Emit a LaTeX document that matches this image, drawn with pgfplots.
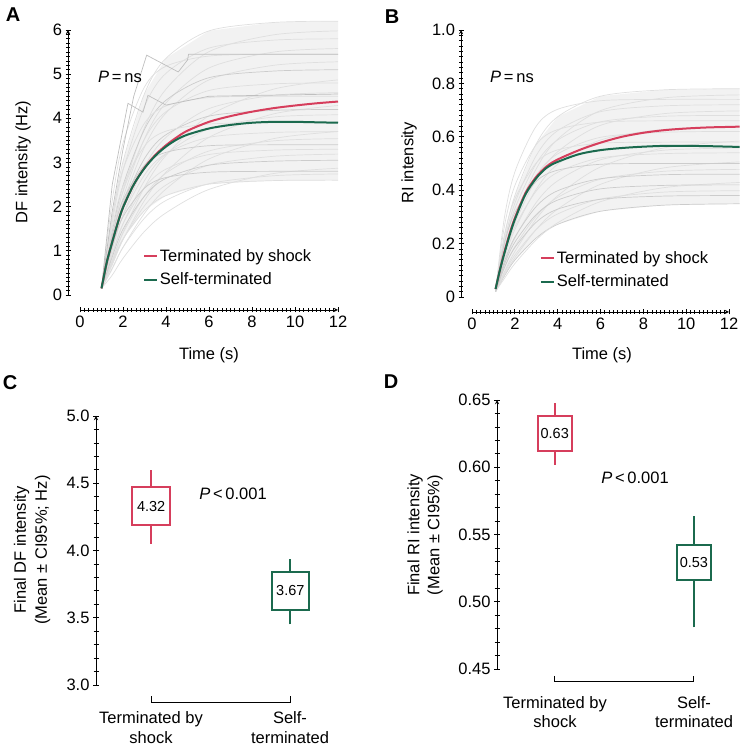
\documentclass[border=0pt]{standalone}
\usepackage{fontspec}
\setmainfont{Liberation Sans}
\usepackage{pgfplots}
\pgfplotsset{compat=1.18}

\definecolor{shock}{HTML}{D63E5C}
\definecolor{selft}{HTML}{1B6A4E}
\newcommand\lbl{\fontsize{16.5}{19.5}\selectfont}
\newcommand\boxlbl{\fontsize{14.5}{17}\selectfont}
\newcommand\panel{\fontsize{20}{24}\selectfont\bfseries}

\pgfplotsset{
  frame/.style={scale only axis, anchor=south west, clip=false,
    tick align=outside, axis line style={line width=0.9pt,-},
    every tick/.style={black, line width=0.7pt},
    major tick length=5pt, minor tick length=3.5pt,
    tick label style={font=\lbl},
    /pgf/number format/assume math mode=true},
  trace/.style={gray!25, line width=0.7pt, smooth, forget plot},
  dtrace/.style={gray!40, line width=0.7pt, smooth, forget plot},
  cloud/.style={fill=gray!10, draw=none, forget plot},
  mean/.style={line width=2pt, smooth},
  box/.style={line width=2pt, line join=miter, forget plot},
  curvelegend/.style={legend style={at={(axis description cs:0.24,0.02)}, anchor=south west,
    draw=none, fill=none, font=\lbl, row sep=6pt, inner sep=1pt},
    legend cell align=left,
    legend image code/.code={\draw[##1,line width=1.8pt] (0pt,0pt) -- (13pt,0pt);}},
}

\begin{document}
\begin{tikzpicture}
\path[use as bounding box] (0,0) rectangle (744pt,751pt);

% ---------- A ----------
\begin{axis}[frame, curvelegend, at={(80pt,456pt)}, width=258pt, height=265pt,
  xmin=0, xmax=12, ymin=0, ymax=6,
  axis x line=bottom, axis y line=left,
  axis x line shift=15pt, axis y line shift=12pt,
  xtick={0,2,...,12}, ytick={0,...,6}, minor x tick num=9, minor y tick num=9]
\addplot[cloud] coordinates {(1,0.15)(1.5,1.75)(2,3.02)(3,4.56)(4,5.36)(6,5.98)(9,6.17)(12,6.2)(12,2.6)(9,2.59)(6,2.51)(4,2.25)(3,1.91)(2,1.27)(1.5,0.74)(1,0.15)};
\addplot[trace] coordinates {(1,0.15)(1.5,1.75)(2,3.02)(3,4.56)(4,5.36)(6,5.98)(9,6.17)(12,6.2)};
\addplot[trace] coordinates {(1,0.15)(1.5,0.74)(2,1.27)(3,1.91)(4,2.25)(6,2.51)(9,2.59)(12,2.6)};
\addplot[trace] coordinates {(1,0.15)(1.5,1.33)(2,2.36)(3,3.79)(4,4.66)(6,5.51)(9,5.89)(12,5.98)};
\addplot[trace] coordinates {(1,0.15)(1.5,1.64)(2,2.82)(3,4.27)(4,5.02)(6,5.59)(9,5.77)(12,5.8)};
\addplot[trace] coordinates {(1,0.15)(1.5,1.24)(2,2.20)(3,3.54)(4,4.35)(6,5.14)(9,5.50)(12,5.58)};
\addplot[trace] coordinates {(1,0.15)(1.5,2.14)(2,3.44)(3,4.71)(4,5.18)(6,5.41)(9,5.45)(12,5.45)};
\addplot[trace] coordinates {(1,0.15)(1.5,1.17)(2,2.08)(3,3.35)(4,4.12)(6,4.87)(9,5.20)(12,5.28)};
\addplot[dtrace] coordinates {(1,0.15)(1.5,1.44)(2,2.48)(3,3.75)(4,4.41)(6,4.92)(9,5.07)(12,5.1)};
\addplot[trace] coordinates {(1,0.15)(1.5,0.77)(2,1.42)(3,2.44)(4,3.16)(6,4.06)(9,4.66)(12,4.87)};
\addplot[trace] coordinates {(1,0.15)(1.5,1.36)(2,2.34)(3,3.53)(4,4.15)(6,4.63)(9,4.78)(12,4.8)};
\addplot[trace] coordinates {(1,0.15)(1.5,1.02)(2,1.81)(3,2.91)(4,3.57)(6,4.22)(9,4.52)(12,4.58)};
\addplot[trace] coordinates {(1,0.15)(1.5,1.77)(2,2.84)(3,3.89)(4,4.28)(6,4.47)(9,4.5)(12,4.5)};
\addplot[trace] coordinates {(1,0.15)(1.5,0.68)(2,1.25)(3,2.14)(4,2.78)(6,3.57)(9,4.10)(12,4.29)};
\addplot[dtrace] coordinates {(1,0.15)(1.5,1.19)(2,2.05)(3,3.09)(4,3.63)(6,4.05)(9,4.18)(12,4.2)};
\addplot[trace] coordinates {(1,0.15)(1.5,0.91)(2,1.61)(3,2.59)(4,3.19)(6,3.76)(9,4.03)(12,4.08)};
\addplot[trace] coordinates {(1,0.15)(1.5,1.53)(2,2.46)(3,3.37)(4,3.71)(6,3.87)(9,3.9)(12,3.9)};
\addplot[trace] coordinates {(1,0.15)(1.5,0.59)(2,1.08)(3,1.85)(4,2.40)(6,3.08)(9,3.54)(12,3.70)};
\addplot[trace] coordinates {(1,0.15)(1.5,1.05)(2,1.80)(3,2.72)(4,3.20)(6,3.57)(9,3.68)(12,3.7)};
\addplot[trace] coordinates {(1,0.15)(1.5,0.78)(2,1.40)(3,2.24)(4,2.76)(6,3.26)(9,3.49)(12,3.54)};
\addplot[dtrace] coordinates {(1,0.15)(1.5,1.34)(2,2.15)(3,2.94)(4,3.23)(6,3.38)(9,3.4)(12,3.4)};
\addplot[trace] coordinates {(1,0.15)(1.5,0.93)(2,1.61)(3,2.43)(4,2.85)(6,3.18)(9,3.28)(12,3.3)};
\addplot[trace] coordinates {(1,0.15)(1.5,0.71)(2,1.26)(3,2.02)(4,2.49)(6,2.94)(9,3.14)(12,3.19)};
\addplot[dtrace] coordinates {(1,0.15)(1.5,0.86)(2,1.49)(3,2.24)(4,2.64)(6,2.94)(9,3.03)(12,3.05)};
\addplot[trace] coordinates {(1,0.15)(1.5,0.45)(2,0.83)(3,1.44)(4,1.86)(6,2.39)(9,2.75)(12,2.87)};
\addplot[dtrace] coordinates {(1,0.15)(1.5,1.10)(2,1.77)(3,2.42)(4,2.66)(6,2.78)(9,2.8)(12,2.8)};
\addplot[trace] coordinates {(1,0.15)(1.5,0.61)(2,1.08)(3,1.74)(4,2.14)(6,2.52)(9,2.70)(12,2.74)};
\addplot[gray!50, line width=0.7pt, forget plot] coordinates {(1,0.15)(1.5,1.9)(2,3.3)(2.5,4.5)(3.1,5.43)(4.57,5.05)(5.0,5.32)(5.05,5.45)(12,5.45)};
\addplot[gray!50, line width=0.7pt, forget plot] coordinates {(1,0.15)(1.5,2.5)(2.23,4.34)(2.93,4.14)(3.16,4.52)(4.0,4.3)(6,4.5)(12,4.55)};
\addplot[mean, shock] coordinates {(1,0.15)(1.25,0.75)(1.5,1.2)(1.75,1.62)(2,1.98)(2.5,2.5)(3,2.88)(3.5,3.17)(4,3.39)(4.5,3.57)(5,3.72)(6,3.92)(7,4.05)(8,4.15)(9,4.23)(10,4.29)(11,4.34)(12,4.38)};
\addlegendentry{Terminated by shock}
\addplot[mean, selft] coordinates {(1,0.15)(1.25,0.75)(1.5,1.2)(1.75,1.62)(2,1.98)(2.5,2.5)(3,2.87)(3.5,3.15)(4,3.36)(4.5,3.52)(5,3.63)(6,3.77)(7,3.85)(8,3.9)(9,3.92)(10,3.92)(11,3.91)(12,3.9)};
\addlegendentry{Self-terminated}
\end{axis}

% ---------- B ----------
\begin{axis}[frame, curvelegend, at={(472pt,454pt)}, width=257pt, height=267pt,
  xmin=0, xmax=12, ymin=0, ymax=1,
  axis x line=bottom, axis y line=left,
  axis x line shift=15pt, axis y line shift=11pt,
  xtick={0,2,...,12}, ytick={0,0.2,...,1}, yticklabels={0,0.2,0.4,0.6,0.8,1.0},
  minor x tick num=9, minor y tick num=9,
  legend style={at={(axis description cs:0.26,0.02)}}]
\addplot[cloud] coordinates {(1.1,0.02)(1.5,0.221)(2,0.380)(3,0.574)(4,0.675)(6,0.752)(9,0.776)(12.5,0.78)(12.5,0.349)(9,0.344)(6,0.321)(4,0.272)(3,0.221)(2,0.138)(1.5,0.077)(1.1,0.02)};
\addplot[trace] coordinates {(1.1,0.02)(1.5,0.221)(2,0.380)(3,0.574)(4,0.675)(6,0.752)(9,0.776)(12.5,0.78)};
\addplot[dtrace] coordinates {(1.1,0.02)(1.5,0.077)(2,0.138)(3,0.221)(4,0.272)(6,0.321)(9,0.344)(12.5,0.349)};
\addplot[trace] coordinates {(1.1,0.02)(1.5,0.168)(2,0.299)(3,0.480)(4,0.591)(6,0.698)(9,0.746)(12.5,0.757)};
\addplot[trace] coordinates {(1.1,0.02)(1.5,0.291)(2,0.468)(3,0.640)(4,0.703)(6,0.735)(9,0.74)(12.5,0.74)};
\addplot[trace] coordinates {(1.1,0.02)(1.5,0.204)(2,0.351)(3,0.530)(4,0.623)(6,0.694)(9,0.716)(12.5,0.72)};
\addplot[trace] coordinates {(1.1,0.02)(1.5,0.155)(2,0.275)(3,0.442)(4,0.544)(6,0.643)(9,0.687)(12.5,0.697)};
\addplot[trace] coordinates {(1.1,0.02)(1.5,0.192)(2,0.331)(3,0.500)(4,0.588)(6,0.656)(9,0.677)(12.5,0.68)};
\addplot[trace] coordinates {(1.1,0.02)(1.5,0.259)(2,0.417)(3,0.571)(4,0.627)(6,0.655)(9,0.66)(12.5,0.66)};
\addplot[trace] coordinates {(1.1,0.02)(1.5,0.141)(2,0.252)(3,0.404)(4,0.497)(6,0.588)(9,0.628)(12.5,0.637)};
\addplot[trace] coordinates {(1.1,0.02)(1.5,0.175)(2,0.302)(3,0.456)(4,0.536)(6,0.598)(9,0.617)(12.5,0.62)};
\addplot[trace] coordinates {(1.1,0.02)(1.5,0.092)(2,0.170)(3,0.292)(4,0.379)(6,0.487)(9,0.559)(12.5,0.584)};
\addplot[trace] coordinates {(1.1,0.02)(1.5,0.228)(2,0.367)(3,0.502)(4,0.551)(6,0.576)(9,0.58)(12.5,0.58)};
\addplot[trace] coordinates {(1.1,0.02)(1.5,0.124)(2,0.220)(3,0.354)(4,0.435)(6,0.514)(9,0.550)(12.5,0.558)};
\addplot[trace] coordinates {(1.1,0.02)(1.5,0.153)(2,0.263)(3,0.397)(4,0.467)(6,0.521)(9,0.537)(12.5,0.54)};
\addplot[trace] coordinates {(1.1,0.02)(1.5,0.080)(2,0.147)(3,0.253)(4,0.329)(6,0.422)(9,0.484)(12.5,0.506)};
\addplot[dtrace] coordinates {(1.1,0.02)(1.5,0.197)(2,0.316)(3,0.433)(4,0.475)(6,0.497)(9,0.50)(12.5,0.50)};
\addplot[trace] coordinates {(1.1,0.02)(1.5,0.106)(2,0.189)(3,0.303)(4,0.373)(6,0.441)(9,0.471)(12.5,0.478)};
\addplot[dtrace] coordinates {(1.1,0.02)(1.5,0.130)(2,0.224)(3,0.339)(4,0.398)(6,0.443)(9,0.458)(12.5,0.46)};
\addplot[trace] coordinates {(1.1,0.02)(1.5,0.068)(2,0.125)(3,0.214)(4,0.278)(6,0.357)(9,0.410)(12.5,0.429)};
\addplot[dtrace] coordinates {(1.1,0.02)(1.5,0.119)(2,0.205)(3,0.309)(4,0.363)(6,0.405)(9,0.418)(12.5,0.42)};
\addplot[trace] coordinates {(1.1,0.02)(1.5,0.088)(2,0.157)(3,0.253)(4,0.311)(6,0.367)(9,0.393)(12.5,0.398)};
\addplot[dtrace] coordinates {(1.1,0.02)(1.5,0.108)(2,0.185)(3,0.280)(4,0.329)(6,0.366)(9,0.378)(12.5,0.38)};
\addplot[mean, shock] coordinates {(1.1,0.03)(1.3,0.10)(1.5,0.165)(1.75,0.235)(2,0.295)(2.5,0.39)(3,0.45)(3.5,0.49)(4,0.515)(5,0.55)(6,0.578)(7,0.6)(8,0.615)(9,0.625)(10,0.631)(11,0.635)(12,0.637)(12.5,0.638)};
\addlegendentry{Terminated by shock}
\addplot[mean, selft] coordinates {(1.1,0.03)(1.3,0.10)(1.5,0.16)(1.75,0.23)(2,0.29)(2.5,0.385)(3,0.445)(3.5,0.485)(4,0.506)(5,0.535)(6,0.55)(7,0.558)(8,0.563)(9,0.566)(10,0.566)(11,0.565)(12,0.563)(12.5,0.562)};
\addlegendentry{Self-terminated}
\end{axis}

% ---------- C ----------
\begin{axis}[frame, at={(96pt,66pt)}, width=250pt, height=269pt,
  xmin=0.604, xmax=2.4, ymin=3, ymax=5,
  axis y line=left, axis x line=none,
  ytick={3,3.5,...,5}, yticklabels={3.0,3.5,4.0,4.5,5.0}, minor y tick num=4,
  major tick length=6pt, minor tick length=5pt]
% whiskers and boxes: mean +- CI95
\addplot[box, shock] coordinates {(1,4.05)(1,4.19)};
\addplot[box, shock] coordinates {(1,4.47)(1,4.60)};
\addplot[box, shock] coordinates {(0.865,4.19)(1.135,4.19)(1.135,4.47)(0.865,4.47)(0.865,4.19)(1.135,4.19)};
\addplot[box, selft] coordinates {(2,3.45)(2,3.56)};
\addplot[box, selft] coordinates {(2,3.84)(2,3.94)};
\addplot[box, selft] coordinates {(1.865,3.56)(2.135,3.56)(2.135,3.84)(1.865,3.84)(1.865,3.56)(2.135,3.56)};
\addplot[black, line width=0.8pt] coordinates {(1,2.918)(1,2.874)(2,2.874)(2,2.918)};
\node[font=\boxlbl] at (axis cs:1,4.33) {4.32};
\node[font=\boxlbl] at (axis cs:2,3.70) {3.67};
\end{axis}

% ---------- D ----------
\begin{axis}[frame, at={(497pt,82pt)}, width=240pt, height=269pt,
  xmin=0.585, xmax=2.31, ymin=0.45, ymax=0.65,
  axis y line=left, axis x line=none,
  ytick={0.45,0.50,0.55,0.60,0.65}, yticklabels={0.45,0.50,0.55,0.60,0.65}, minor y tick num=4,
  major tick length=6pt, minor tick length=5pt]
\addplot[box, shock] coordinates {(1,0.602)(1,0.612)};
\addplot[box, shock] coordinates {(1,0.638)(1,0.6475)};
\addplot[box, shock] coordinates {(0.8775,0.612)(1.1225,0.612)(1.1225,0.638)(0.8775,0.638)(0.8775,0.612)(1.1225,0.612)};
\addplot[box, selft] coordinates {(2,0.481)(2,0.516)};
\addplot[box, selft] coordinates {(2,0.542)(2,0.564)};
\addplot[box, selft] coordinates {(1.8775,0.516)(2.1225,0.516)(2.1225,0.542)(1.8775,0.542)(1.8775,0.516)(2.1225,0.516)};
\addplot[black, line width=0.8pt] coordinates {(1,0.4448)(1,0.4406)(2,0.4406)(2,0.4448)};
\node[font=\boxlbl] at (axis cs:1,0.625) {0.63};
\node[font=\boxlbl] at (axis cs:2,0.529) {0.53};
\end{axis}

% ---------- text ----------
\node[font=\panel] at (13pt,736pt) {A};
\node[font=\panel] at (392pt,734pt) {B};
\node[font=\panel] at (10pt,368pt) {C};
\node[font=\panel] at (391pt,369pt) {D};
\node[font=\lbl, rotate=90] at (23pt,589pt) {DF intensity (Hz)};
\node[font=\lbl] at (209pt,396pt) {Time (s)};
\node[font=\lbl, rotate=90] at (409pt,588pt) {RI intensity};
\node[font=\lbl] at (602pt,396pt) {Time (s)};
\node[font=\lbl] at (120pt,674pt) {{\itshape P}\,=\,ns};
\node[font=\lbl] at (512pt,674pt) {{\itshape P}\,=\,ns};
\node[font=\fontsize{16.5}{21}\selectfont, rotate=90, align=center] at (32pt,201pt) {Final DF intensity\\(Mean ± CI95\%; Hz)};
\node[font=\fontsize{16.5}{20}\selectfont, rotate=90, align=center] at (425pt,216pt) {Final RI intensity\\(Mean ± CI95\%)};
\node[font=\lbl] at (233pt,257pt) {{\itshape P}\,<\,0.001};
\node[font=\lbl] at (635pt,273pt) {{\itshape P}\,<\,0.001};
\node[font=\lbl, align=center] at (151pt,23.5pt) {Terminated by\\shock};
\node[font=\lbl, align=center] at (290pt,23.5pt) {Self-\\terminated};
\node[font=\lbl, align=center] at (555pt,39pt) {Terminated by\\shock};
\node[font=\lbl, align=center] at (694pt,39pt) {Self-\\terminated};
\end{tikzpicture}
\end{document}
